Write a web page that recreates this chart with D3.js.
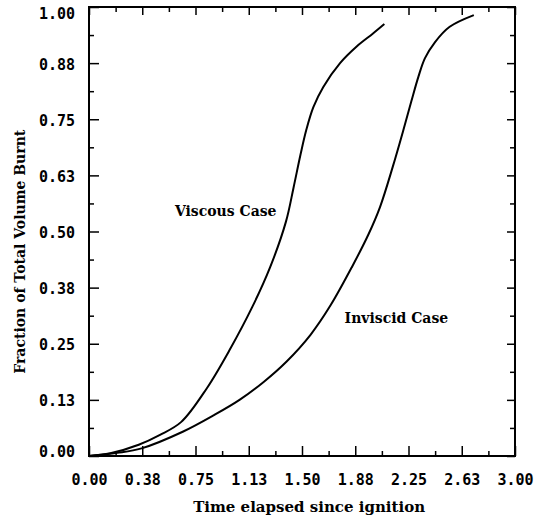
<!DOCTYPE html>
<html>
<head>
<meta charset="utf-8">
<script src="https://cdn.jsdelivr.net/npm/d3@7"></script>
<style>
  body { margin: 0; background: #fff; }
  .tick text { font-family: "DejaVu Sans Mono", monospace; font-weight: bold; font-size: 15px; fill: #000; }
  .title { font-family: "DejaVu Serif", serif; font-weight: bold; fill: #000; }
</style>
</head>
<body>
<div id="chart"></div>
<script>
// viscous case
const viscousT = [0, 0.15, 0.35, 0.5, 0.65, 0.83, 0.99, 1.15, 1.275, 1.387, 1.44, 1.49, 1.53, 1.58, 1.65, 1.768, 1.885, 2.0, 2.08];
const viscousV = [0, 0.006, 0.025, 0.047, 0.076, 0.151, 0.236, 0.332, 0.42, 0.522, 0.597, 0.672, 0.726, 0.777, 0.822, 0.875, 0.912, 0.941, 0.962];

// inviscid case
const inviscidT = [0, 0.2, 0.37, 0.66, 0.88, 1.06, 1.23, 1.39, 1.56, 1.70, 1.85, 1.97, 2.05, 2.14, 2.213, 2.27, 2.32, 2.366, 2.437, 2.54, 2.71];
const inviscidV = [0, 0.007, 0.017, 0.054, 0.091, 0.125, 0.165, 0.21, 0.27, 0.335, 0.42, 0.495, 0.555, 0.645, 0.725, 0.79, 0.845, 0.886, 0.922, 0.956, 0.982];

const xTicks = [0, 0.375, 0.75, 1.125, 1.5, 1.875, 2.25, 2.625, 3];
const xTickLabels = ["0.00", "0.38", "0.75", "1.13", "1.50", "1.88", "2.25", "2.63", "3.00"];
const yTicks = [0, 0.125, 0.25, 0.375, 0.5, 0.625, 0.75, 0.875, 1];
const yTickLabels = ["0.00", "0.13", "0.25", "0.38", "0.50", "0.63", "0.75", "0.88", "1.00"];

const margin = { top: 7, right: 26, bottom: 63, left: 89 },
    width = 541 - margin.left - margin.right,
    height = 519 - margin.top - margin.bottom;

const svg = d3.select("#chart")
    .append("svg")
    .attr("width", 541)
    .attr("height", 519)
    .append("g")
    .attr("transform", `translate(${margin.left},${margin.top})`);

const x = d3.scaleLinear().domain([0, 3]).range([0, width]);
const y = d3.scaleLinear().domain([0, 1]).range([height, 0]);

// minor ticks halfway between the major ones
const xMinor = xTicks.slice(1).map((d, i) => (d + xTicks[i]) / 2);
const yMinor = yTicks.slice(1).map((d, i) => (d + yTicks[i]) / 2);

function styleAxis(g) {
    g.select(".domain").remove();
    g.selectAll(".tick line").attr("stroke", "#000").attr("stroke-width", 1.5);
}

// bottom
svg.append("g")
    .attr("transform", `translate(0,${height})`)
    .call(d3.axisBottom(x).tickValues(xTicks).tickSize(-10).tickPadding(18)
        .tickFormat((d, i) => xTickLabels[i]))
    .call(styleAxis);
svg.append("g")
    .attr("transform", `translate(0,${height})`)
    .call(d3.axisBottom(x).tickValues(xMinor).tickSize(-5).tickFormat(""))
    .call(styleAxis);

// left
const yAxisG = svg.append("g")
    .call(d3.axisLeft(y).tickValues(yTicks).tickSize(-10).tickPadding(14)
        .tickFormat((d, i) => yTickLabels[i]))
    .call(styleAxis);
// end labels sit a little inside the frame
yAxisG.selectAll(".tick text")
    .attr("dy", d => d === 0 ? "0" : d === 1 ? "0.75em" : "0.4em");
svg.append("g")
    .call(d3.axisLeft(y).tickValues(yMinor).tickSize(-5).tickFormat(""))
    .call(styleAxis);

// top and right, ticks only
svg.append("g")
    .call(d3.axisTop(x).tickValues(xTicks).tickSize(-8).tickFormat(""))
    .call(styleAxis);
svg.append("g")
    .call(d3.axisTop(x).tickValues(xMinor).tickSize(-5).tickFormat(""))
    .call(styleAxis);
svg.append("g")
    .attr("transform", `translate(${width},0)`)
    .call(d3.axisRight(y).tickValues(yTicks).tickSize(-8).tickFormat(""))
    .call(styleAxis);
svg.append("g")
    .attr("transform", `translate(${width},0)`)
    .call(d3.axisRight(y).tickValues(yMinor).tickSize(-5).tickFormat(""))
    .call(styleAxis);

// frame
svg.append("rect")
    .attr("width", width)
    .attr("height", height)
    .attr("fill", "none")
    .attr("stroke", "#000")
    .attr("stroke-width", 2);

const line = d3.line()
    .x(d => x(d[0]))
    .y(d => y(d[1]))
    .curve(d3.curveCatmullRom.alpha(0.5));

svg.append("path")
    .datum(d3.zip(viscousT, viscousV))
    .attr("fill", "none")
    .attr("stroke", "#000")
    .attr("stroke-width", 2)
    .attr("d", line);

svg.append("path")
    .datum(d3.zip(inviscidT, inviscidV))
    .attr("fill", "none")
    .attr("stroke", "#000")
    .attr("stroke-width", 2)
    .attr("d", line);

// curve labels
svg.append("text")
    .attr("class", "title")
    .attr("x", x(0.605))
    .attr("y", y(0.535))
    .attr("font-size", 14)
    .text("Viscous Case");

svg.append("text")
    .attr("class", "title")
    .attr("x", x(1.8))
    .attr("y", y(0.296))
    .attr("font-size", 14)
    .text("Inviscid Case");

// axis titles
svg.append("text")
    .attr("class", "title")
    .attr("text-anchor", "middle")
    .attr("x", x(1.55))
    .attr("y", height + 56)
    .attr("font-size", 15)
    .text("Time elapsed since ignition");

svg.append("text")
    .attr("class", "title")
    .attr("text-anchor", "middle")
    .attr("transform", `translate(-64,${y(0.455)}) rotate(-90)`)
    .attr("font-size", 14)
    .text("Fraction of Total Volume Burnt");
</script>
</body>
</html>
